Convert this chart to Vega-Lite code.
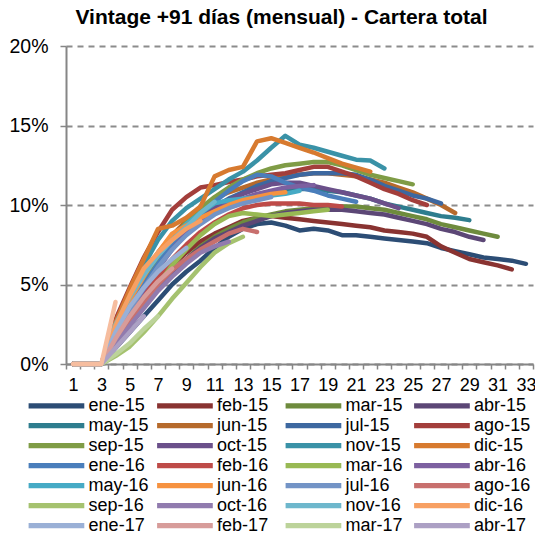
{
"$schema": "https://vega.github.io/schema/vega-lite/v6.json",
"width": 467, "height": 318,
"autosize": {"type": "none"},
"padding": {"left": 66, "top": 46, "right": 2, "bottom": 170},
"background": "white",
"config": {"view": {"stroke": null}, "font": "Liberation Sans"},
"title": {"text": "Vintage +91 días (mensual) - Cartera total", "font": "Liberation Sans", "fontSize": 21, "fontWeight": "bold", "color": "#000", "anchor": "middle", "frame": "group", "dx": -18, "offset": 8},
"data": {"values": [
{"s":"ene-15","m":1,"v":0},{"s":"ene-15","m":2,"v":0},{"s":"ene-15","m":3,"v":0},{"s":"ene-15","m":4,"v":1.0},{"s":"ene-15","m":5,"v":2.0},{"s":"ene-15","m":6,"v":3.0},{"s":"ene-15","m":7,"v":4.0},{"s":"ene-15","m":8,"v":5.0},{"s":"ene-15","m":9,"v":5.8},{"s":"ene-15","m":10,"v":6.5},{"s":"ene-15","m":11,"v":7.3},{"s":"ene-15","m":12,"v":8.0},{"s":"ene-15","m":13,"v":8.5},{"s":"ene-15","m":14,"v":8.8},{"s":"ene-15","m":15,"v":8.9},{"s":"ene-15","m":16,"v":8.7},{"s":"ene-15","m":17,"v":8.4},{"s":"ene-15","m":18,"v":8.5},{"s":"ene-15","m":19,"v":8.4},{"s":"ene-15","m":20,"v":8.1},{"s":"ene-15","m":21,"v":8.1},{"s":"ene-15","m":22,"v":8.0},{"s":"ene-15","m":23,"v":7.9},{"s":"ene-15","m":24,"v":7.8},{"s":"ene-15","m":25,"v":7.7},{"s":"ene-15","m":26,"v":7.6},{"s":"ene-15","m":27,"v":7.3},{"s":"ene-15","m":28,"v":7.1},{"s":"ene-15","m":29,"v":6.9},{"s":"ene-15","m":30,"v":6.7},{"s":"ene-15","m":31,"v":6.6},{"s":"ene-15","m":32,"v":6.5},{"s":"ene-15","m":33,"v":6.3},
{"s":"feb-15","m":1,"v":0},{"s":"feb-15","m":2,"v":0},{"s":"feb-15","m":3,"v":0},{"s":"feb-15","m":4,"v":1.5},{"s":"feb-15","m":5,"v":2.8},{"s":"feb-15","m":6,"v":4.0},{"s":"feb-15","m":7,"v":5.2},{"s":"feb-15","m":8,"v":6.2},{"s":"feb-15","m":9,"v":7.0},{"s":"feb-15","m":10,"v":7.7},{"s":"feb-15","m":11,"v":8.2},{"s":"feb-15","m":12,"v":8.6},{"s":"feb-15","m":13,"v":9.0},{"s":"feb-15","m":14,"v":9.2},{"s":"feb-15","m":15,"v":9.3},{"s":"feb-15","m":16,"v":9.2},{"s":"feb-15","m":17,"v":9.1},{"s":"feb-15","m":18,"v":9.0},{"s":"feb-15","m":19,"v":8.9},{"s":"feb-15","m":20,"v":8.8},{"s":"feb-15","m":21,"v":8.7},{"s":"feb-15","m":22,"v":8.6},{"s":"feb-15","m":23,"v":8.4},{"s":"feb-15","m":24,"v":8.3},{"s":"feb-15","m":25,"v":8.2},{"s":"feb-15","m":26,"v":8.0},{"s":"feb-15","m":27,"v":7.4},{"s":"feb-15","m":28,"v":7.0},{"s":"feb-15","m":29,"v":6.6},{"s":"feb-15","m":30,"v":6.4},{"s":"feb-15","m":31,"v":6.2},{"s":"feb-15","m":32,"v":5.95},
{"s":"mar-15","m":1,"v":0},{"s":"mar-15","m":2,"v":0},{"s":"mar-15","m":3,"v":0},{"s":"mar-15","m":4,"v":1.3},{"s":"mar-15","m":5,"v":2.5},{"s":"mar-15","m":6,"v":3.6},{"s":"mar-15","m":7,"v":4.7},{"s":"mar-15","m":8,"v":5.7},{"s":"mar-15","m":9,"v":6.6},{"s":"mar-15","m":10,"v":7.4},{"s":"mar-15","m":11,"v":8.0},{"s":"mar-15","m":12,"v":8.5},{"s":"mar-15","m":13,"v":8.9},{"s":"mar-15","m":14,"v":9.2},{"s":"mar-15","m":15,"v":9.4},{"s":"mar-15","m":16,"v":9.6},{"s":"mar-15","m":17,"v":9.7},{"s":"mar-15","m":18,"v":9.8},{"s":"mar-15","m":19,"v":9.9},{"s":"mar-15","m":20,"v":9.9},{"s":"mar-15","m":21,"v":9.9},{"s":"mar-15","m":22,"v":9.8},{"s":"mar-15","m":23,"v":9.7},{"s":"mar-15","m":24,"v":9.5},{"s":"mar-15","m":25,"v":9.3},{"s":"mar-15","m":26,"v":9.1},{"s":"mar-15","m":27,"v":8.8},{"s":"mar-15","m":28,"v":8.6},{"s":"mar-15","m":29,"v":8.4},{"s":"mar-15","m":30,"v":8.2},{"s":"mar-15","m":31,"v":8.0},
{"s":"abr-15","m":1,"v":0},{"s":"abr-15","m":2,"v":0},{"s":"abr-15","m":3,"v":0},{"s":"abr-15","m":4,"v":1.4},{"s":"abr-15","m":5,"v":2.6},{"s":"abr-15","m":6,"v":3.7},{"s":"abr-15","m":7,"v":4.8},{"s":"abr-15","m":8,"v":5.8},{"s":"abr-15","m":9,"v":6.6},{"s":"abr-15","m":10,"v":7.3},{"s":"abr-15","m":11,"v":7.9},{"s":"abr-15","m":12,"v":8.3},{"s":"abr-15","m":13,"v":8.7},{"s":"abr-15","m":14,"v":9.0},{"s":"abr-15","m":15,"v":9.3},{"s":"abr-15","m":16,"v":9.5},{"s":"abr-15","m":17,"v":9.6},{"s":"abr-15","m":18,"v":9.7},{"s":"abr-15","m":19,"v":9.7},{"s":"abr-15","m":20,"v":9.7},{"s":"abr-15","m":21,"v":9.6},{"s":"abr-15","m":22,"v":9.5},{"s":"abr-15","m":23,"v":9.4},{"s":"abr-15","m":24,"v":9.2},{"s":"abr-15","m":25,"v":9.0},{"s":"abr-15","m":26,"v":8.8},{"s":"abr-15","m":27,"v":8.5},{"s":"abr-15","m":28,"v":8.3},{"s":"abr-15","m":29,"v":8.0},{"s":"abr-15","m":30,"v":7.8},
{"s":"may-15","m":1,"v":0},{"s":"may-15","m":2,"v":0},{"s":"may-15","m":3,"v":0},{"s":"may-15","m":4,"v":2.0},{"s":"may-15","m":5,"v":3.6},{"s":"may-15","m":6,"v":5.0},{"s":"may-15","m":7,"v":6.3},{"s":"may-15","m":8,"v":7.4},{"s":"may-15","m":9,"v":8.3},{"s":"may-15","m":10,"v":9.0},{"s":"may-15","m":11,"v":9.6},{"s":"may-15","m":12,"v":10.0},{"s":"may-15","m":13,"v":10.3},{"s":"may-15","m":14,"v":10.6},{"s":"may-15","m":15,"v":10.8},{"s":"may-15","m":16,"v":10.9},{"s":"may-15","m":17,"v":11.0},{"s":"may-15","m":18,"v":11.0},{"s":"may-15","m":19,"v":10.9},{"s":"may-15","m":20,"v":10.8},{"s":"may-15","m":21,"v":10.6},{"s":"may-15","m":22,"v":10.4},{"s":"may-15","m":23,"v":10.1},{"s":"may-15","m":24,"v":9.9},{"s":"may-15","m":25,"v":9.7},{"s":"may-15","m":26,"v":9.5},{"s":"may-15","m":27,"v":9.3},{"s":"may-15","m":28,"v":9.2},{"s":"may-15","m":29,"v":9.05},
{"s":"jun-15","m":1,"v":0},{"s":"jun-15","m":2,"v":0},{"s":"jun-15","m":3,"v":0},{"s":"jun-15","m":4,"v":2.2},{"s":"jun-15","m":5,"v":4.0},{"s":"jun-15","m":6,"v":5.6},{"s":"jun-15","m":7,"v":7.0},{"s":"jun-15","m":8,"v":8.1},{"s":"jun-15","m":9,"v":9.0},{"s":"jun-15","m":10,"v":9.8},{"s":"jun-15","m":11,"v":10.4},{"s":"jun-15","m":12,"v":10.8},{"s":"jun-15","m":13,"v":11.1},{"s":"jun-15","m":14,"v":11.4},{"s":"jun-15","m":15,"v":11.6},{"s":"jun-15","m":16,"v":11.8},{"s":"jun-15","m":17,"v":11.9},{"s":"jun-15","m":18,"v":12.0},{"s":"jun-15","m":19,"v":12.0},{"s":"jun-15","m":20,"v":11.9},{"s":"jun-15","m":21,"v":11.8},{"s":"jun-15","m":22,"v":11.6},{"s":"jun-15","m":23,"v":11.4},{"s":"jun-15","m":24,"v":11.1},{"s":"jun-15","m":25,"v":10.8},{"s":"jun-15","m":26,"v":10.4},{"s":"jun-15","m":27,"v":10.0},{"s":"jun-15","m":28,"v":9.5},
{"s":"jul-15","m":1,"v":0},{"s":"jul-15","m":2,"v":0},{"s":"jul-15","m":3,"v":0},{"s":"jul-15","m":4,"v":2.0},{"s":"jul-15","m":5,"v":3.7},{"s":"jul-15","m":6,"v":5.2},{"s":"jul-15","m":7,"v":6.5},{"s":"jul-15","m":8,"v":7.6},{"s":"jul-15","m":9,"v":8.5},{"s":"jul-15","m":10,"v":9.3},{"s":"jul-15","m":11,"v":9.9},{"s":"jul-15","m":12,"v":10.4},{"s":"jul-15","m":13,"v":10.8},{"s":"jul-15","m":14,"v":11.2},{"s":"jul-15","m":15,"v":11.5},{"s":"jul-15","m":16,"v":11.7},{"s":"jul-15","m":17,"v":11.9},{"s":"jul-15","m":18,"v":12.0},{"s":"jul-15","m":19,"v":12.0},{"s":"jul-15","m":20,"v":12.0},{"s":"jul-15","m":21,"v":11.9},{"s":"jul-15","m":22,"v":11.6},{"s":"jul-15","m":23,"v":11.2},{"s":"jul-15","m":24,"v":10.9},{"s":"jul-15","m":25,"v":10.6},{"s":"jul-15","m":26,"v":10.4},{"s":"jul-15","m":27,"v":10.1},
{"s":"ago-15","m":1,"v":0},{"s":"ago-15","m":2,"v":0},{"s":"ago-15","m":3,"v":0},{"s":"ago-15","m":4,"v":2.8},{"s":"ago-15","m":5,"v":4.8},{"s":"ago-15","m":6,"v":6.7},{"s":"ago-15","m":7,"v":8.3},{"s":"ago-15","m":8,"v":9.7},{"s":"ago-15","m":9,"v":10.5},{"s":"ago-15","m":10,"v":11.1},{"s":"ago-15","m":11,"v":11.25},{"s":"ago-15","m":12,"v":11.45},{"s":"ago-15","m":13,"v":11.6},{"s":"ago-15","m":14,"v":11.8},{"s":"ago-15","m":15,"v":11.9},{"s":"ago-15","m":16,"v":12.0},{"s":"ago-15","m":17,"v":12.2},{"s":"ago-15","m":18,"v":12.4},{"s":"ago-15","m":19,"v":12.4},{"s":"ago-15","m":20,"v":12.1},{"s":"ago-15","m":21,"v":11.8},{"s":"ago-15","m":22,"v":11.4},{"s":"ago-15","m":23,"v":11.0},{"s":"ago-15","m":24,"v":10.7},{"s":"ago-15","m":25,"v":10.3},{"s":"ago-15","m":26,"v":10.0},
{"s":"sep-15","m":1,"v":0},{"s":"sep-15","m":2,"v":0},{"s":"sep-15","m":3,"v":0},{"s":"sep-15","m":4,"v":1.8},{"s":"sep-15","m":5,"v":3.4},{"s":"sep-15","m":6,"v":5.0},{"s":"sep-15","m":7,"v":6.5},{"s":"sep-15","m":8,"v":7.8},{"s":"sep-15","m":9,"v":8.9},{"s":"sep-15","m":10,"v":9.8},{"s":"sep-15","m":11,"v":10.5},{"s":"sep-15","m":12,"v":11.1},{"s":"sep-15","m":13,"v":11.6},{"s":"sep-15","m":14,"v":12.0},{"s":"sep-15","m":15,"v":12.3},{"s":"sep-15","m":16,"v":12.5},{"s":"sep-15","m":17,"v":12.6},{"s":"sep-15","m":18,"v":12.7},{"s":"sep-15","m":19,"v":12.7},{"s":"sep-15","m":20,"v":12.5},{"s":"sep-15","m":21,"v":12.2},{"s":"sep-15","m":22,"v":11.9},{"s":"sep-15","m":23,"v":11.7},{"s":"sep-15","m":24,"v":11.5},{"s":"sep-15","m":25,"v":11.3},
{"s":"oct-15","m":1,"v":0},{"s":"oct-15","m":2,"v":0},{"s":"oct-15","m":3,"v":0},{"s":"oct-15","m":4,"v":1.8},{"s":"oct-15","m":5,"v":3.3},{"s":"oct-15","m":6,"v":4.8},{"s":"oct-15","m":7,"v":6.1},{"s":"oct-15","m":8,"v":7.3},{"s":"oct-15","m":9,"v":8.3},{"s":"oct-15","m":10,"v":9.1},{"s":"oct-15","m":11,"v":9.8},{"s":"oct-15","m":12,"v":10.3},{"s":"oct-15","m":13,"v":10.7},{"s":"oct-15","m":14,"v":11.0},{"s":"oct-15","m":15,"v":11.3},{"s":"oct-15","m":16,"v":11.4},{"s":"oct-15","m":17,"v":11.4},{"s":"oct-15","m":18,"v":11.2},{"s":"oct-15","m":19,"v":11.0},{"s":"oct-15","m":20,"v":10.8},{"s":"oct-15","m":21,"v":10.6},{"s":"oct-15","m":22,"v":10.4},{"s":"oct-15","m":23,"v":10.1},{"s":"oct-15","m":24,"v":9.8},
{"s":"nov-15","m":1,"v":0},{"s":"nov-15","m":2,"v":0},{"s":"nov-15","m":3,"v":0},{"s":"nov-15","m":4,"v":2.5},{"s":"nov-15","m":5,"v":4.4},{"s":"nov-15","m":6,"v":6.2},{"s":"nov-15","m":7,"v":7.8},{"s":"nov-15","m":8,"v":9.0},{"s":"nov-15","m":9,"v":9.8},{"s":"nov-15","m":10,"v":10.4},{"s":"nov-15","m":11,"v":11.0},{"s":"nov-15","m":12,"v":11.6},{"s":"nov-15","m":13,"v":12.1},{"s":"nov-15","m":14,"v":12.8},{"s":"nov-15","m":15,"v":13.6},{"s":"nov-15","m":16,"v":14.35},{"s":"nov-15","m":17,"v":13.8},{"s":"nov-15","m":18,"v":13.6},{"s":"nov-15","m":19,"v":13.35},{"s":"nov-15","m":20,"v":13.1},{"s":"nov-15","m":21,"v":12.85},{"s":"nov-15","m":22,"v":12.8},{"s":"nov-15","m":23,"v":12.3},
{"s":"dic-15","m":1,"v":0},{"s":"dic-15","m":2,"v":0},{"s":"dic-15","m":3,"v":0},{"s":"dic-15","m":4,"v":2.6},{"s":"dic-15","m":5,"v":4.7},{"s":"dic-15","m":6,"v":6.6},{"s":"dic-15","m":7,"v":8.5},{"s":"dic-15","m":8,"v":8.7},{"s":"dic-15","m":9,"v":9.2},{"s":"dic-15","m":10,"v":9.9},{"s":"dic-15","m":11,"v":11.8},{"s":"dic-15","m":12,"v":12.2},{"s":"dic-15","m":13,"v":12.4},{"s":"dic-15","m":14,"v":14.0},{"s":"dic-15","m":15,"v":14.2},{"s":"dic-15","m":16,"v":13.9},{"s":"dic-15","m":17,"v":13.6},{"s":"dic-15","m":18,"v":13.3},{"s":"dic-15","m":19,"v":12.95},{"s":"dic-15","m":20,"v":12.6},{"s":"dic-15","m":21,"v":12.35},{"s":"dic-15","m":22,"v":12.1},
{"s":"ene-16","m":1,"v":0},{"s":"ene-16","m":2,"v":0},{"s":"ene-16","m":3,"v":0},{"s":"ene-16","m":4,"v":2.0},{"s":"ene-16","m":5,"v":3.6},{"s":"ene-16","m":6,"v":5.0},{"s":"ene-16","m":7,"v":6.3},{"s":"ene-16","m":8,"v":7.5},{"s":"ene-16","m":9,"v":8.5},{"s":"ene-16","m":10,"v":9.4},{"s":"ene-16","m":11,"v":10.2},{"s":"ene-16","m":12,"v":10.9},{"s":"ene-16","m":13,"v":11.5},{"s":"ene-16","m":14,"v":11.9},{"s":"ene-16","m":15,"v":11.8},{"s":"ene-16","m":16,"v":11.4},{"s":"ene-16","m":17,"v":11.1},{"s":"ene-16","m":18,"v":10.9},{"s":"ene-16","m":19,"v":10.6},{"s":"ene-16","m":20,"v":10.4},{"s":"ene-16","m":21,"v":10.2},
{"s":"feb-16","m":1,"v":0},{"s":"feb-16","m":2,"v":0},{"s":"feb-16","m":3,"v":0},{"s":"feb-16","m":4,"v":1.6},{"s":"feb-16","m":5,"v":3.0},{"s":"feb-16","m":6,"v":4.3},{"s":"feb-16","m":7,"v":5.5},{"s":"feb-16","m":8,"v":6.6},{"s":"feb-16","m":9,"v":7.5},{"s":"feb-16","m":10,"v":8.3},{"s":"feb-16","m":11,"v":8.9},{"s":"feb-16","m":12,"v":9.4},{"s":"feb-16","m":13,"v":9.8},{"s":"feb-16","m":14,"v":10.0},{"s":"feb-16","m":15,"v":10.1},{"s":"feb-16","m":16,"v":10.1},{"s":"feb-16","m":17,"v":10.1},{"s":"feb-16","m":18,"v":10.0},{"s":"feb-16","m":19,"v":10.0},{"s":"feb-16","m":20,"v":9.9},
{"s":"mar-16","m":1,"v":0},{"s":"mar-16","m":2,"v":0},{"s":"mar-16","m":3,"v":0},{"s":"mar-16","m":4,"v":1.2},{"s":"mar-16","m":5,"v":2.5},{"s":"mar-16","m":6,"v":3.8},{"s":"mar-16","m":7,"v":5.0},{"s":"mar-16","m":8,"v":6.2},{"s":"mar-16","m":9,"v":7.2},{"s":"mar-16","m":10,"v":8.1},{"s":"mar-16","m":11,"v":8.8},{"s":"mar-16","m":12,"v":9.3},{"s":"mar-16","m":13,"v":9.5},{"s":"mar-16","m":14,"v":9.4},{"s":"mar-16","m":15,"v":9.3},{"s":"mar-16","m":16,"v":9.4},{"s":"mar-16","m":17,"v":9.5},{"s":"mar-16","m":18,"v":9.6},{"s":"mar-16","m":19,"v":9.7},
{"s":"abr-16","m":1,"v":0},{"s":"abr-16","m":2,"v":0},{"s":"abr-16","m":3,"v":0},{"s":"abr-16","m":4,"v":1.8},{"s":"abr-16","m":5,"v":3.3},{"s":"abr-16","m":6,"v":4.7},{"s":"abr-16","m":7,"v":6.0},{"s":"abr-16","m":8,"v":7.2},{"s":"abr-16","m":9,"v":8.2},{"s":"abr-16","m":10,"v":9.0},{"s":"abr-16","m":11,"v":9.6},{"s":"abr-16","m":12,"v":10.1},{"s":"abr-16","m":13,"v":10.4},{"s":"abr-16","m":14,"v":10.7},{"s":"abr-16","m":15,"v":10.9},{"s":"abr-16","m":16,"v":11.1},{"s":"abr-16","m":17,"v":11.2},{"s":"abr-16","m":18,"v":11.25},
{"s":"may-16","m":1,"v":0},{"s":"may-16","m":2,"v":0},{"s":"may-16","m":3,"v":0},{"s":"may-16","m":4,"v":2.3},{"s":"may-16","m":5,"v":4.0},{"s":"may-16","m":6,"v":5.6},{"s":"may-16","m":7,"v":7.0},{"s":"may-16","m":8,"v":8.0},{"s":"may-16","m":9,"v":8.8},{"s":"may-16","m":10,"v":9.5},{"s":"may-16","m":11,"v":10.1},{"s":"may-16","m":12,"v":10.3},{"s":"may-16","m":13,"v":10.4},{"s":"may-16","m":14,"v":10.5},{"s":"may-16","m":15,"v":10.6},{"s":"may-16","m":16,"v":10.7},{"s":"may-16","m":17,"v":10.9},
{"s":"jun-16","m":1,"v":0},{"s":"jun-16","m":2,"v":0},{"s":"jun-16","m":3,"v":0},{"s":"jun-16","m":4,"v":2.3},{"s":"jun-16","m":5,"v":4.0},{"s":"jun-16","m":6,"v":5.5},{"s":"jun-16","m":7,"v":7.0},{"s":"jun-16","m":8,"v":8.2},{"s":"jun-16","m":9,"v":8.7},{"s":"jun-16","m":10,"v":9.2},{"s":"jun-16","m":11,"v":9.6},{"s":"jun-16","m":12,"v":10.0},{"s":"jun-16","m":13,"v":10.3},{"s":"jun-16","m":14,"v":10.5},{"s":"jun-16","m":15,"v":10.7},{"s":"jun-16","m":16,"v":10.8},
{"s":"jul-16","m":1,"v":0},{"s":"jul-16","m":2,"v":0},{"s":"jul-16","m":3,"v":0},{"s":"jul-16","m":4,"v":1.9},{"s":"jul-16","m":5,"v":3.4},{"s":"jul-16","m":6,"v":4.8},{"s":"jul-16","m":7,"v":6.1},{"s":"jul-16","m":8,"v":7.2},{"s":"jul-16","m":9,"v":8.1},{"s":"jul-16","m":10,"v":8.8},{"s":"jul-16","m":11,"v":9.4},{"s":"jul-16","m":12,"v":9.8},{"s":"jul-16","m":13,"v":10.1},{"s":"jul-16","m":14,"v":10.3},{"s":"jul-16","m":15,"v":10.5},
{"s":"ago-16","m":1,"v":0},{"s":"ago-16","m":2,"v":0},{"s":"ago-16","m":3,"v":0},{"s":"ago-16","m":4,"v":1.4},{"s":"ago-16","m":5,"v":2.7},{"s":"ago-16","m":6,"v":3.9},{"s":"ago-16","m":7,"v":5.0},{"s":"ago-16","m":8,"v":5.9},{"s":"ago-16","m":9,"v":6.6},{"s":"ago-16","m":10,"v":7.2},{"s":"ago-16","m":11,"v":7.7},{"s":"ago-16","m":12,"v":8.2},{"s":"ago-16","m":13,"v":8.5},{"s":"ago-16","m":14,"v":8.3},
{"s":"sep-16","m":1,"v":0},{"s":"sep-16","m":2,"v":0},{"s":"sep-16","m":3,"v":0},{"s":"sep-16","m":4,"v":0.5},{"s":"sep-16","m":5,"v":1.1},{"s":"sep-16","m":6,"v":2.0},{"s":"sep-16","m":7,"v":3.0},{"s":"sep-16","m":8,"v":4.1},{"s":"sep-16","m":9,"v":5.1},{"s":"sep-16","m":10,"v":6.1},{"s":"sep-16","m":11,"v":7.0},{"s":"sep-16","m":12,"v":7.6},{"s":"sep-16","m":13,"v":8.0},
{"s":"oct-16","m":1,"v":0},{"s":"oct-16","m":2,"v":0},{"s":"oct-16","m":3,"v":0},{"s":"oct-16","m":4,"v":1.2},{"s":"oct-16","m":5,"v":2.4},{"s":"oct-16","m":6,"v":3.5},{"s":"oct-16","m":7,"v":4.6},{"s":"oct-16","m":8,"v":5.5},{"s":"oct-16","m":9,"v":6.3},{"s":"oct-16","m":10,"v":7.0},{"s":"oct-16","m":11,"v":7.4},{"s":"oct-16","m":12,"v":7.7},
{"s":"nov-16","m":1,"v":0},{"s":"nov-16","m":2,"v":0},{"s":"nov-16","m":3,"v":0},{"s":"nov-16","m":4,"v":2.5},{"s":"nov-16","m":5,"v":4.2},{"s":"nov-16","m":6,"v":5.6},{"s":"nov-16","m":7,"v":6.8},{"s":"nov-16","m":8,"v":7.8},{"s":"nov-16","m":9,"v":8.6},{"s":"nov-16","m":10,"v":9.5},{"s":"nov-16","m":11,"v":10.2},
{"s":"dic-16","m":1,"v":0},{"s":"dic-16","m":2,"v":0},{"s":"dic-16","m":3,"v":0},{"s":"dic-16","m":4,"v":2.4},{"s":"dic-16","m":5,"v":4.3},{"s":"dic-16","m":6,"v":6.0},{"s":"dic-16","m":7,"v":7.0},{"s":"dic-16","m":8,"v":7.8},{"s":"dic-16","m":9,"v":8.5},{"s":"dic-16","m":10,"v":9.0},
{"s":"ene-17","m":1,"v":0},{"s":"ene-17","m":2,"v":0},{"s":"ene-17","m":3,"v":0},{"s":"ene-17","m":4,"v":2.0},{"s":"ene-17","m":5,"v":3.6},{"s":"ene-17","m":6,"v":4.8},{"s":"ene-17","m":7,"v":5.8},{"s":"ene-17","m":8,"v":6.6},{"s":"ene-17","m":9,"v":7.3},
{"s":"feb-17","m":1,"v":0},{"s":"feb-17","m":2,"v":0},{"s":"feb-17","m":3,"v":0},{"s":"feb-17","m":4,"v":1.6},{"s":"feb-17","m":5,"v":3.0},{"s":"feb-17","m":6,"v":4.2},{"s":"feb-17","m":7,"v":5.2},{"s":"feb-17","m":8,"v":6.0},
{"s":"mar-17","m":1,"v":0},{"s":"mar-17","m":2,"v":0},{"s":"mar-17","m":3,"v":0},{"s":"mar-17","m":4,"v":0.6},{"s":"mar-17","m":5,"v":1.3},{"s":"mar-17","m":6,"v":2.2},{"s":"mar-17","m":7,"v":3.0},
{"s":"abr-17","m":1,"v":0},{"s":"abr-17","m":2,"v":0},{"s":"abr-17","m":3,"v":0},{"s":"abr-17","m":4,"v":1.0},{"s":"abr-17","m":5,"v":2.0},{"s":"abr-17","m":6,"v":3.0},
{"s":"may-17","m":1,"v":0},{"s":"may-17","m":2,"v":0},{"s":"may-17","m":3,"v":0},{"s":"may-17","m":4,"v":3.9}
]},
"mark": {"type": "line", "strokeWidth": 4.5, "strokeCap": "round", "strokeJoin": "round"},
"encoding": {
"x": {"field": "m", "type": "quantitative",
 "scale": {"domain": [0.5, 33.5], "nice": false, "zero": false},
 "axis": {"title": null, "grid": false,
  "values": [0.5,1.5,2.5,3.5,4.5,5.5,6.5,7.5,8.5,9.5,10.5,11.5,12.5,13.5,14.5,15.5,16.5,17.5,18.5,19.5,20.5,21.5,22.5,23.5,24.5,25.5,26.5,27.5,28.5,29.5,30.5,31.5,32.5,33.5],
  "labelExpr": "(datum.value + 0.5) % 2 == 1 ? '' + (datum.value + 0.5) : ''",
  "labelOffset": 7.08, "labelOverlap": false, "labelFlush": false,
  "labelFont": "Liberation Sans", "labelFontSize": 18, "labelColor": "#000", "labelPadding": 7,
  "tickSize": 5, "tickColor": "#868686", "tickWidth": 1.5,
  "domainColor": "#868686", "domainWidth": 2}},
"y": {"field": "v", "type": "quantitative",
 "scale": {"domain": [0, 20], "nice": false},
 "axis": {"title": null, "values": [0, 5, 10, 15, 20],
  "labelExpr": "datum.value + '%'",
  "labelFont": "Liberation Sans", "labelFontSize": 19.5, "labelColor": "#000", "labelPadding": 12,
  "tickSize": 6, "tickColor": "#868686", "tickWidth": 1.5,
  "domainColor": "#868686", "domainWidth": 2,
  "grid": true, "gridColor": "#8c8c8c", "gridDash": [6, 5], "gridWidth": 1.8}},
"color": {"field": "s", "type": "nominal",
 "scale": {
  "domain": ["ene-15","feb-15","mar-15","abr-15","may-15","jun-15","jul-15","ago-15","sep-15","oct-15","nov-15","dic-15","ene-16","feb-16","mar-16","abr-16","may-16","jun-16","jul-16","ago-16","sep-16","oct-16","nov-16","dic-16","ene-17","feb-17","mar-17","abr-17","may-17"],
  "range": ["#2C4D75","#893331","#6E8B3D","#5C4776","#2E7D8E","#B66A2C","#3D68A0","#A33E3B","#7F9C46","#6B508A","#3A92A7","#D77A2F","#4A7EBB","#BE4B48","#98B954","#7D60A0","#46AAC5","#F69240","#7394C6","#C8706E","#A5C26F","#917BAE","#6EB7CC","#F7A063","#9AB0D6","#D79C9A","#BCD39A","#ACA0C4","#F6BD9F"]},
 "legend": {"orient": "none", "legendX": -41.4, "legendY": 350.7, "columns": 4, "gridAlign": "all", "direction": "horizontal",
  "title": null, "padding": 0,
  "values": ["ene-15","feb-15","mar-15","abr-15","may-15","jun-15","jul-15","ago-15","sep-15","oct-15","nov-15","dic-15","ene-16","feb-16","mar-16","abr-16","may-16","jun-16","jul-16","ago-16","sep-16","oct-16","nov-16","dic-16","ene-17","feb-17","mar-17","abr-17"],
  "symbolType": "M-1,0H10.14", "symbolSize": 100, "symbolStrokeWidth": 5.3,
  "labelFont": "Liberation Sans", "labelFontSize": 18, "labelColor": "#000", "labelOffset": 46, "labelLimit": 200,
  "columnPadding": -3.5, "rowPadding": -6}}
}
}
